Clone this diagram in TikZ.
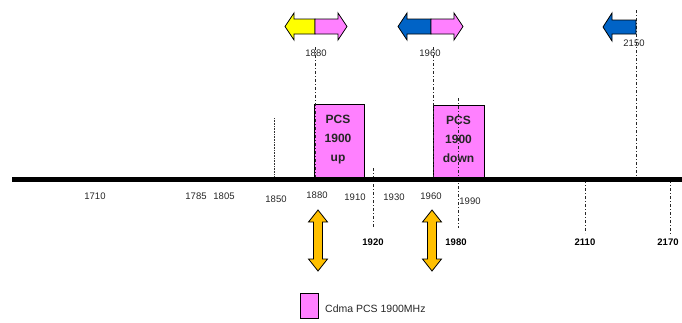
\documentclass[tikz,border=0pt]{standalone}
\usepackage{fontspec}
\setmainfont{Liberation Sans}
\begin{document}
\begin{tikzpicture}[x=1pt,y=-1pt,
  lbl/.style={inner sep=0pt,font=\fontsize{9.5}{9.5}\selectfont,text=black!85},
  blbl/.style={inner sep=0pt,font=\fontsize{9.5}{9.5}\selectfont\bfseries},
  band/.style={draw=black,line width=0.9pt,fill=pinkc,inner sep=0pt,anchor=north west,align=center},
  bandtext/.style={font=\fontsize{12}{19}\selectfont\bfseries,align=center,text=black!85,inner sep=0pt},
  dd/.style={draw=black!85,line width=0.8pt,dash pattern=on 3pt off 2pt on 1pt off 2pt},
  outl/.style={draw=black,line width=0.8pt,line join=miter}]
\definecolor{pinkc}{HTML}{FF80FF}
\definecolor{yel}{HTML}{FFFF00}
\definecolor{blu}{HTML}{0063C6}
\definecolor{org}{HTML}{FFC000}
\useasboundingbox (0,0) rectangle (682,322);

% dashed markers
\coordinate (d1880t) at (315,47);
\coordinate (d1880b) at (315,178);
\coordinate (d1960t) at (433,47);
\coordinate (d1960b) at (433,178);
\coordinate (d1980t) at (458,98);
\coordinate (d1980b) at (458,228);
\coordinate (d1920t) at (373,168);
\coordinate (d1920b) at (373,228);
\coordinate (d2110t) at (585,180);
\coordinate (d2110b) at (585,233);
\coordinate (d2170t) at (670,180);
\coordinate (d2170b) at (670,234);
\coordinate (d2150t) at (636,10);
\coordinate (d2150b) at (636,178);
\coordinate (s1850t) at (274,118);
\coordinate (s1850b) at (274,178);

% bands
\node[band,minimum width=50pt,minimum height=73pt] (up) at (314,104) {};
\node[bandtext] (uptext) at (338,139.5) {PCS\\1900\\up};
\node[band,minimum width=51pt,minimum height=72pt] (down) at (433,105) {};
\node[bandtext] (downtext) at (458.5,139.5) {PCS\\1900\\down};

\draw[dd] (d1880t) -- (d1880b);
\draw[dd] (d1960t) -- (d1960b);
\draw[dd] (d1980t) -- (d1980b);
\draw[dd] (d1920t) -- (d1920b);
\draw[dd] (d2110t) -- (d2110b);
\draw[dd] (d2170t) -- (d2170b);
\draw[dd] (d2150t) -- (d2150b);
\draw[black!80,line width=0.6pt,dash pattern=on 1pt off 0.6pt] (s1850t) -- (s1850b);

% axis
\coordinate (axl) at (12,179.5);
\coordinate (axr) at (682,179.5);
\draw[line width=5pt] (axl) -- (axr);

% top arrows
\filldraw[outl,fill=yel] (315,19) -- (294,19) -- (294,13) -- (285,26.5) -- (294,40) -- (294,34) -- (315,34) -- cycle;
\filldraw[outl,fill=pinkc] (315,19) -- (338,19) -- (338,13) -- (347,26.5) -- (338,40) -- (338,34) -- (315,34) -- cycle;
\filldraw[outl,fill=blu] (431,19) -- (407,19) -- (407,13) -- (398,26.5) -- (407,40) -- (407,34) -- (431,34) -- cycle;
\filldraw[outl,fill=pinkc] (431,19) -- (454,19) -- (454,13) -- (463,26.5) -- (454,40) -- (454,34) -- (431,34) -- cycle;
\filldraw[outl,fill=blu] (636,20) -- (612,20) -- (612,13) -- (603,27) -- (612,41) -- (612,34) -- (636,34) -- cycle;

% orange double arrows
\filldraw[outl,fill=org] (318,210) -- (327.5,222) -- (322.5,222) -- (322.5,259) -- (327.5,259) -- (318,271) -- (308.5,259) -- (313.5,259) -- (313.5,222) -- (308.5,222) -- cycle;
\filldraw[outl,fill=org] (432,210) -- (441.5,222) -- (436.5,222) -- (436.5,259) -- (441.5,259) -- (432,271) -- (422.5,259) -- (427.5,259) -- (427.5,222) -- (422.5,222) -- cycle;

% labels
\node[lbl] (t1880) at (316,53) {1880};
\node[lbl] (t1960) at (430,53) {1960};
\node[lbl] (t2150) at (634,43) {2150};
\node[lbl] (l1710) at (95,196) {1710};
\node[lbl] (l1785) at (196,196) {1785};
\node[lbl] (l1805) at (224,196) {1805};
\node[lbl] (l1850) at (276,199) {1850};
\node[lbl] (l1880) at (317,195) {1880};
\node[lbl] (l1910) at (355,197) {1910};
\node[lbl] (l1930) at (394,197) {1930};
\node[lbl] (l1960) at (431,196) {1960};
\node[lbl] (l1990) at (470,201) {1990};
\node[blbl] (b1920) at (373,242) {1920};
\node[blbl] (b1980) at (456,242) {1980};
\node[blbl] (b2110) at (585,242) {2110};
\node[blbl] (b2170) at (668,242) {2170};

% legend
\node[band,minimum width=18pt,minimum height=25pt] (leg) at (300,293) {};
\node[anchor=west,inner sep=0pt,font=\fontsize{10.5}{10.5}\selectfont,text=black!85] (legtext) at (325,309) {Cdma PCS 1900MHz};
\end{tikzpicture}
\end{document}
